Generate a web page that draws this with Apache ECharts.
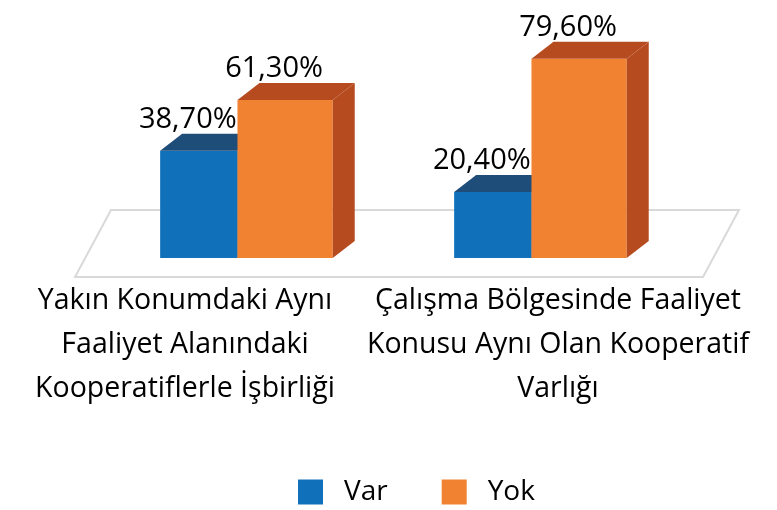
<!DOCTYPE html>
<html>
<head>
<meta charset="utf-8">
<script src="https://cdn.jsdelivr.net/npm/echarts@6/dist/echarts.min.js"></script>
<style>
  html, body { margin: 0; padding: 0; background: #fff; }
  #chart { width: 777px; height: 510px; }
</style>
</head>
<body>
<div id="chart"></div>
<script>
// kategoriler (x ekseni)
const categories = [
  "Yakın Konumdaki Aynı\nFaaliyet Alanındaki\nKooperatiflerle İşbirliği",
  "Çalışma Bölgesinde Faaliyet\nKonusu Aynı Olan Kooperatif\nVarlığı"
];
// seri adları
const seriesNames = ["Var", "Yok"];
// değerler (%)
const varValues = [38.7, 20.4];
const yokValues = [61.3, 79.6];

const FONT = "Open Sans";
const yMin = -9;
const yMax = 100;
// 3B derinlik
const DX = 22, DY = 17;

const palette = {
  Var: { front: "#1170BA", dark: "#1F4D7A" },
  Yok: { front: "#F08232", dark: "#B64B20" }
};

function fmt(v) {
  return v.toFixed(2).replace(".", ",") + "%";
}

// 3B sütun çizimi: from/to = bant genişliğine göre konum
function bar3d(name, from, to) {
  return function (params, api) {
    const idx = api.value(0);
    const val = api.value(1);
    const band = api.size([1, 0])[0];
    const c = api.coord([idx, val]);
    const base = api.coord([idx, yMin])[1];
    const x0 = c[0] + from * band;
    const x1 = c[0] + to * band;
    const top = c[1];
    const col = palette[name];
    return {
      type: "group",
      children: [
        { type: "rect", shape: { x: x0, y: top, width: x1 - x0, height: base - top }, style: { fill: col.front } },
        { type: "polygon", shape: { points: [[x0, top], [x0 + DX, top - DY], [x1 + DX, top - DY], [x1, top]] }, style: { fill: col.dark } },
        { type: "polygon", shape: { points: [[x1, top], [x1 + DX, top - DY], [x1 + DX, base - DY], [x1, base]] }, style: { fill: col.dark } },
        {
          type: "text",
          style: {
            text: fmt(val), x: (x0 + x1) / 2 - 11, y: top - 31,
            align: "center", verticalAlign: "middle",
            fontFamily: FONT, fontSize: 29, fill: "#000"
          }
        }
      ]
    };
  };
}

// zemin (paralelkenar)
function floor(params, api) {
  const cs = params.coordSys;
  const base = api.coord([0, yMin])[1];
  const backY = base - 48, frontY = base + 19;
  const fl = cs.x - 24, fr = cs.x + cs.width + 16;
  return {
    type: "polygon",
    shape: { points: [[fl + 36, backY], [fr + 36, backY], [fr, frontY], [fl, frontY]] },
    style: { fill: "none", stroke: "#D9D9D9", lineWidth: 2 }
  };
}

const chart = echarts.init(document.getElementById("chart"));
chart.setOption({
  animation: false,
  grid: [
    { left: 99, right: 90, top: 13, bottom: 252 },
    // sadece etiketler için
    { left: 185, right: 219, top: 13, bottom: 252 }
  ],
  xAxis: [
    { type: "category", data: categories, gridIndex: 0, show: false },
    {
      type: "category", data: categories, gridIndex: 1, boundaryGap: false,
      axisLine: { show: false }, axisTick: { show: false }, splitLine: { show: false },
      axisLabel: {
        interval: 0, showMinLabel: true, showMaxLabel: true, margin: 21,
        fontFamily: FONT, fontSize: 28.5, lineHeight: 44, color: "#000"
      }
    }
  ],
  yAxis: [
    { type: "value", min: yMin, max: yMax, gridIndex: 0, show: false },
    { type: "value", gridIndex: 1, show: false }
  ],
  legend: {
    data: seriesNames,
    left: 293, top: 473,
    icon: "rect", itemWidth: 25, itemHeight: 25, itemGap: 54,
    textStyle: { fontFamily: FONT, fontSize: 28, color: "#000", padding: [0, 0, 0, 16] }
  },
  series: [
    {
      type: "custom", name: "floor", renderItem: floor, data: [[0, 0]], z: 1, silent: true
    },
    {
      type: "custom", name: seriesNames[0], renderItem: bar3d("Var", -0.292, -0.029),
      data: varValues.map((v, i) => [i, v]), itemStyle: { color: palette.Var.front }, z: 2
    },
    {
      type: "custom", name: seriesNames[1], renderItem: bar3d("Yok", -0.029, 0.295),
      data: yokValues.map((v, i) => [i, v]), itemStyle: { color: palette.Yok.front }, z: 2
    }
  ]
});
</script>
</body>
</html>
